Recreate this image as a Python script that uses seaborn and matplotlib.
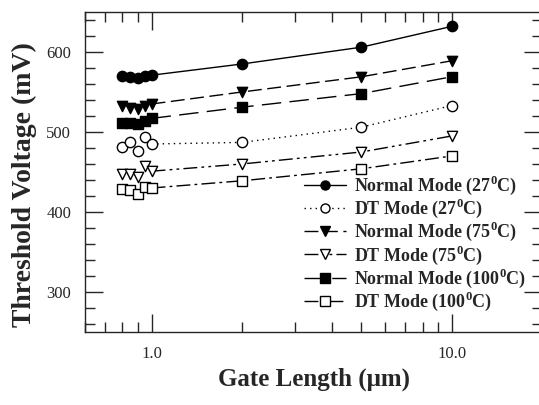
import seaborn as sns
import matplotlib.pyplot as plt
import pandas as pd
from matplotlib.lines import Line2D
from matplotlib.ticker import MultipleLocator, FixedLocator, FixedFormatter, NullFormatter, LogLocator

gate_length = [0.8, 0.85, 0.9, 0.95, 1.0, 2.0, 5.0, 10.0]
normal_27 = [570, 569, 568, 570, 571, 585, 606, 632]
dt_27 = [481, 487, 476, 494, 485, 487, 506, 533]
normal_75 = [532, 530, 529, 533, 535, 550, 569, 589]
dt_75 = [447, 447, 444, 457, 451, 460, 475, 495]
normal_100 = [511, 511, 510, 514, 517, 531, 548, 569]
dt_100 = [429, 428, 422, 431, 430, 439, 454, 470]

labels = ["Normal Mode (27$^{\\mathbf{0}}$C)", "DT Mode (27$^{\\mathbf{0}}$C)",
          "Normal Mode (75$^{\\mathbf{0}}$C)", "DT Mode (75$^{\\mathbf{0}}$C)",
          "Normal Mode (100$^{\\mathbf{0}}$C)", "DT Mode (100$^{\\mathbf{0}}$C)"]
series = [normal_27, dt_27, normal_75, dt_75, normal_100, dt_100]
markers = ["o", "o", "v", "v", "s", "s"]
filled = [True, False, True, False, True, False]
dashes = [(None, None), (1, 3), (10, 4), (10, 3, 2, 3, 2, 3), (14, 6), (10, 3, 2, 3)]

rows = []
for lab, vals in zip(labels, series):
    for x, y in zip(gate_length, vals):
        rows.append({"Gate": x, "Vt": y, "Series": lab})
df = pd.DataFrame(rows)

sns.set_style("ticks")
plt.rcParams["font.family"] = ["Liberation Serif", "DejaVu Serif"]
plt.rcParams["mathtext.fontset"] = "custom"
plt.rcParams["mathtext.bf"] = "Liberation Serif:bold"
plt.rcParams["mathtext.rm"] = "Liberation Serif:bold"

fig = plt.figure(figsize=(5.39, 4.05), dpi=100)
ax = fig.add_axes([85 / 539, 1 - 332 / 405, 457 / 539, 320 / 405])

handles = []
for lab, m, f, d in zip(labels, markers, filled, dashes):
    sub = df[df["Series"] == lab]
    line_part = sub[sub["Gate"] >= 1.0]
    ls = "-" if d[0] is None else (0, d)
    sns.lineplot(data=line_part, x="Gate", y="Vt", ax=ax, color="black",
                 linewidth=1.0, linestyle=ls, legend=False, zorder=2)
    sns.scatterplot(data=sub, x="Gate", y="Vt", ax=ax, marker=m, s=55,
                    facecolor="black" if f else "white", edgecolor="black",
                    linewidth=1.0, legend=False, zorder=3)
    handles.append(Line2D([0], [0], color="black", lw=1.0, linestyle=ls,
                          marker=m, markersize=6.5,
                          markerfacecolor="black" if f else "white",
                          markeredgecolor="black"))

ax.set_xscale("log")
ax.set_xlim(0.6, 20)
ax.set_ylim(250, 650)
ax.xaxis.set_major_locator(FixedLocator([1.0, 10.0]))
ax.xaxis.set_major_formatter(FixedFormatter(["1.0", "10.0"]))
ax.xaxis.set_minor_locator(LogLocator(base=10, subs=range(2, 10)))
ax.xaxis.set_minor_formatter(NullFormatter())
ax.yaxis.set_major_locator(FixedLocator([300, 400, 500, 600]))
ax.yaxis.set_minor_locator(MultipleLocator(20))

ax.tick_params(which="both", direction="in", top=True, right=True,
               labelsize=12, width=1, pad=10)
ax.tick_params(which="major", length=13)
ax.tick_params(which="minor", length=7)
for sp in ax.spines.values():
    sp.set_linewidth(1.0)

ax.set_xlabel("Gate Length (μm)", fontsize=18, fontweight="bold", labelpad=4)
ax.set_ylabel("Threshold Voltage (mV)", fontsize=20, fontweight="bold")
ax.yaxis.set_label_coords(-0.105, 0.46)

ax.legend(handles, labels, loc="lower right", bbox_to_anchor=(0.99, 0.025),
          frameon=False, handlelength=2.35, handletextpad=0.45, labelspacing=0.0,
          borderaxespad=0.2, prop={"weight": "bold", "size": 13})

plt.savefig("out.png", dpi=100)
